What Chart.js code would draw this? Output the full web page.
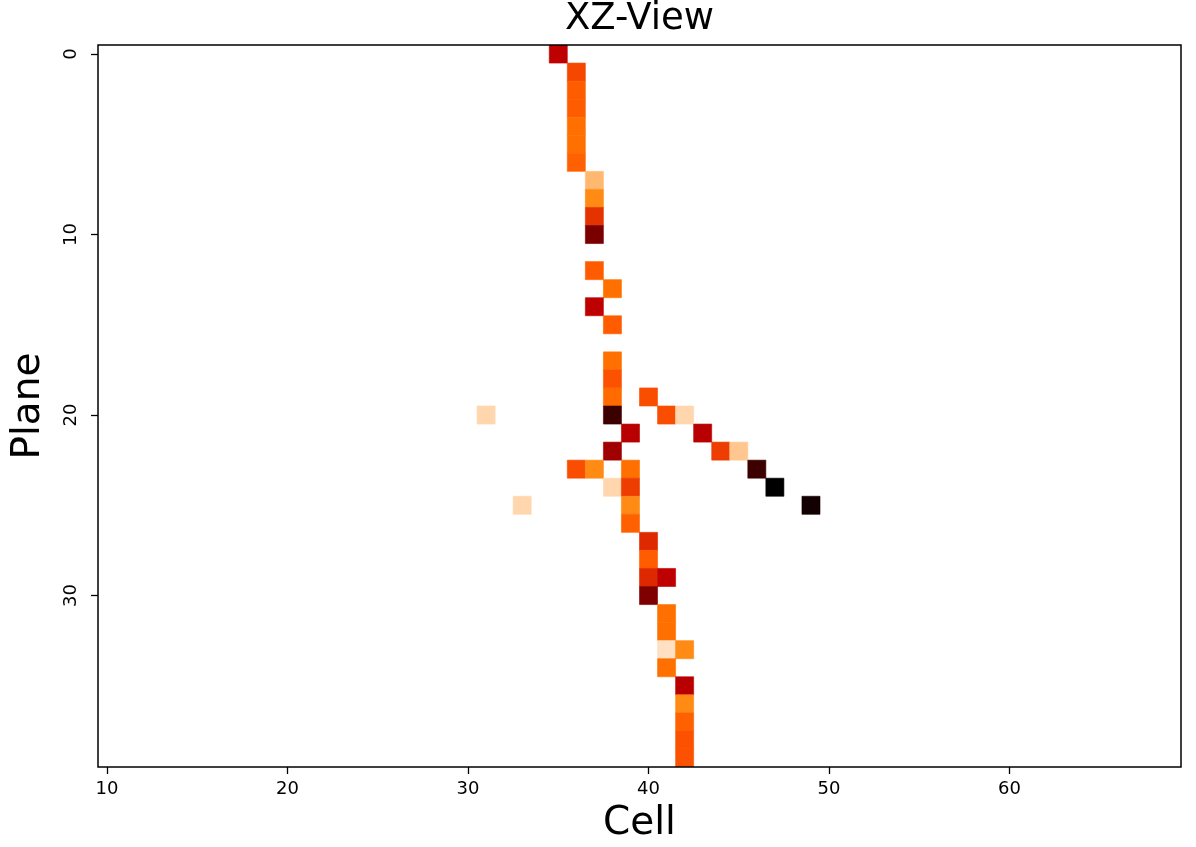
<!DOCTYPE html>
<html><head><meta charset="utf-8">
<script src="https://cdn.jsdelivr.net/npm/chart.js@4/dist/chart.umd.min.js"></script>
<style>html,body{margin:0;padding:0;background:#fff;} canvas{display:block;}</style>
</head><body>
<canvas id="c" width="1196" height="847"></canvas>
<script>
// ---- data ----
const cellX  = [35,36,36,36,36,36,36,37,37,37,37,37,38,37,38,38,38,38,38,40,41,42,31,39,43,38,44,45,36,37,39,46,38,39,47,33,39,49,39,40,40,40,41,40,41,41,41,42,41,42,42,42,42,42];
const planeY = [0,1,2,3,4,5,6,7,8,9,10,12,13,14,15,17,18,19,20,19,20,20,20,21,21,22,22,22,23,23,23,23,24,24,24,25,25,25,26,27,28,29,29,30,31,32,33,33,34,35,36,37,38,39];
const charge = [50,36,32,32,28,28,31,14,23,40,68,32,28,50,32,28,34,29,84,35,35,8,8,52,52,58,38,11,35,23,28,84,8,38,100,8,23,95,31,42,32,42,50,67,28,28,6,23,28,52,23,31,34,34];
const xTickValues = [10,20,30,40,50,60];
const xTickLabels = ['10','20','30','40','50','60'];
const yTickValues = [0,10,20,30];
const yTickLabels = ['0','10','20','30'];
const xRange = [9.5, 69.5];
const yRange = [-0.5, 39.5];
const chargeMax = 100;

// gist_heat_r colormap
function heatColor(v){
  const t = 1 - Math.max(0, Math.min(1, v / chargeMax));
  const c = z => Math.round(Math.max(0, Math.min(1, z)) * 255);
  return `rgb(${c(1.5*t)},${c(2*t-1)},${c(4*t-3)})`;
}

const points = cellX.map((x, i) => ({x: x, y: planeY[i], v: charge[i]}));

const FONT = "'DejaVu Sans', sans-serif";

const frame = {
  id: 'frame',
  afterDatasetsDraw(chart){
    const {ctx, chartArea: a} = chart;
    ctx.save();
    ctx.strokeStyle = '#000';
    ctx.lineWidth = 1.5;
    ctx.strokeRect(a.left, a.top, a.right - a.left, a.bottom - a.top);
    ctx.restore();
  }
};

function cellRadius(ctx){
  const sx = ctx.chart.scales.x, sy = ctx.chart.scales.y;
  const w = Math.abs(sx.getPixelForValue(1) - sx.getPixelForValue(0));
  const h = Math.abs(sy.getPixelForValue(1) - sy.getPixelForValue(0));
  return (w + h) / 2 / Math.SQRT2;
}

new Chart(document.getElementById('c'), {
  type: 'scatter',
  data: {
    datasets: [{
      data: points,
      xAxisID: 'x',
      yAxisID: 'y',
      pointStyle: 'rect',
      pointRadius: cellRadius,
      pointHoverRadius: cellRadius,
      backgroundColor: c => heatColor(c.raw ? c.raw.v : 0),
      borderColor: c => heatColor(c.raw ? c.raw.v : 0),
      borderWidth: 0.6
    }]
  },
  options: {
    responsive: false,
    animation: false,
    events: [],
    layout: {padding: {left: 0, right: 15, top: 0, bottom: 0}},
    plugins: {
      legend: {display: false},
      tooltip: {enabled: false},
      title: {display: false}
    },
    scales: {
      xTop: {
        type: 'linear',
        position: 'top',
        min: xRange[0], max: xRange[1],
        afterBuildTicks: s => { s.ticks = []; },
        afterFit: s => { s.height = 45; },
        border: {display: false},
        grid: {display: false},
        ticks: {display: false},
        title: {display: true, text: 'XZ-View', color: '#000', font: {family: FONT, size: 37, lineHeight: 0.8}, padding: {top: 5, bottom: 0}}
      },
      x: {
        type: 'linear',
        position: 'bottom',
        min: xRange[0], max: xRange[1],
        afterBuildTicks: s => { s.ticks = xTickValues.map(v => ({value: v})); },
        afterFit: s => { s.height = 80; },
        border: {display: false},
        grid: {display: true, drawOnChartArea: false, drawTicks: true, tickLength: 7, tickColor: '#000', tickWidth: 1.3},
        ticks: {
          color: '#000', padding: 5, maxRotation: 0, minRotation: 0,
          font: {family: FONT, size: 18},
          callback: v => { const i = xTickValues.indexOf(v); return i >= 0 ? xTickLabels[i] : ''; }
        },
        title: {display: true, text: 'Cell', color: '#000', font: {family: FONT, size: 39}, padding: {top: 0, bottom: 0}}
      },
      y: {
        type: 'linear',
        position: 'left',
        reverse: true,
        min: yRange[0], max: yRange[1],
        afterBuildTicks: s => { s.ticks = yTickValues.map(v => ({value: v})); },
        afterFit: s => { s.width = 98; },
        border: {display: false},
        grid: {display: true, drawOnChartArea: false, drawTicks: true, tickLength: 7, tickColor: '#000', tickWidth: 1.3},
        ticks: {
          color: '#000', padding: 8, minRotation: 90, maxRotation: 90, crossAlign: 'center',
          font: {family: FONT, size: 18},
          callback: v => { const i = yTickValues.indexOf(v); return i >= 0 ? yTickLabels[i] : ''; }
        },
        title: {display: true, text: 'Plane', color: '#000', font: {family: FONT, size: 39}, padding: {top: 5, bottom: 0}}
      }
    }
  },
  plugins: [frame]
});
</script>
</body></html>
